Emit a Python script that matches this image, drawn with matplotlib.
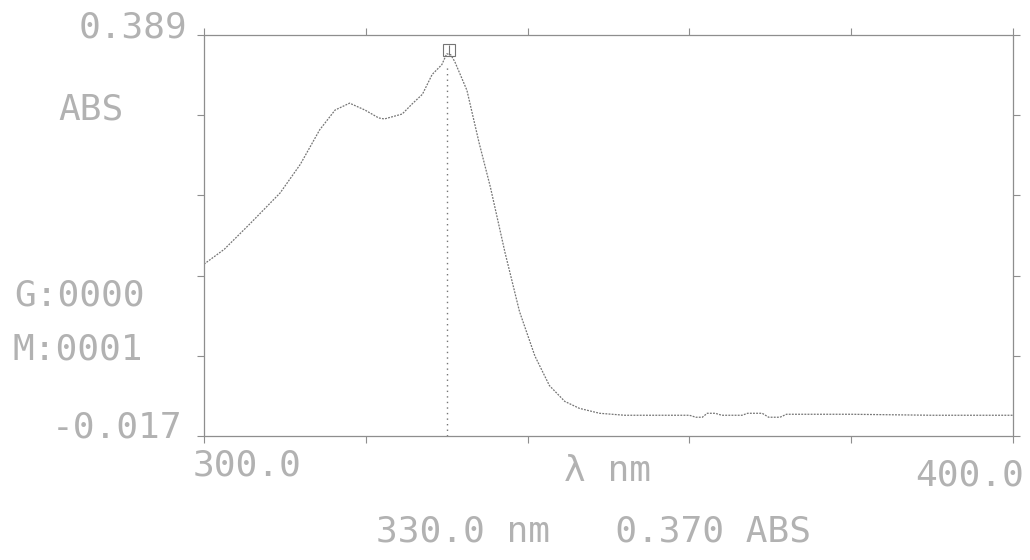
import matplotlib
matplotlib.use("Agg")
import matplotlib.pyplot as plt

# spectrum (nm, ABS)
wavelength = [300.0, 302.5, 305.7, 309.4, 311.9, 314.3, 316.2, 318.0, 319.9,
              321.6, 322.3, 324.5, 325.7, 327.0, 328.2, 329.4, 330.0, 330.5,
              331.0, 332.5, 334.0, 335.4, 337.2, 339.0, 340.9, 342.7, 344.6,
              346.4, 348.9, 352.0, 356.0, 360.0, 360.8, 361.6, 362.2, 363.2,
              364.0, 366.5, 367.2, 369.0, 369.8, 371.2, 372.0, 380.0, 390.0,
              400.0]
absorbance = [0.157, 0.172, 0.198, 0.229, 0.258, 0.293, 0.313, 0.320, 0.313,
              0.305, 0.304, 0.309, 0.319, 0.329, 0.349, 0.359, 0.370, 0.369,
              0.362, 0.333, 0.280, 0.235, 0.169, 0.109, 0.064, 0.034, 0.018,
              0.011, 0.006, 0.004, 0.004, 0.004, 0.002, 0.002, 0.006, 0.006,
              0.004, 0.004, 0.006, 0.006, 0.002, 0.002, 0.005, 0.005, 0.004,
              0.004]

x_min, x_max = 300.0, 400.0
y_min, y_max = -0.017, 0.389
x_ticks = [300, 320, 340, 360, 380, 400]
y_ticks = [y_min + k * (y_max - y_min) / 5 for k in range(6)]

cursor_nm = 330.0
cursor_abs = 0.370
gain_label = "G:0000"
mem_label = "M:0001"

ink = "#757575"
frame_ink = "#8e8e8e"
text_ink = "#b2b2b2"
mono = "DejaVu Sans Mono"

fig = plt.figure(figsize=(10.3, 5.6), dpi=100)
ax = fig.add_axes([204 / 1030, 1 - 436 / 560, 809 / 1030, 401 / 560])

ax.plot(wavelength, absorbance, color=ink, lw=0.9, ls=(0, (1.5, 1.0)))

# cursor line and marker
ax.plot([cursor_nm, cursor_nm], [y_min, cursor_abs - 0.012], color=ink,
        lw=1.0, ls=(0, (1.0, 3.0)))
ax.plot([cursor_nm + 0.3], [cursor_abs + 0.004], marker="s", ms=8,
        mfc="none", mec=ink, mew=0.8)
ax.plot([cursor_nm + 0.3], [cursor_abs + 0.004], marker="|", ms=7,
        color=ink, mew=0.8)

ax.set_xlim(x_min, x_max)
ax.set_ylim(y_min, y_max)
ax.set_xticks(x_ticks)
ax.set_yticks(y_ticks)
ax.set_xticklabels([])
ax.set_yticklabels([])
ax.tick_params(direction="out", length=5, width=0.8, color=frame_ink,
               top=True, right=True, bottom=True, left=True)
for sp in ax.spines.values():
    sp.set_color(frame_ink)
    sp.set_linewidth(0.9)
    sp.set_linestyle((0, (2.0, 1.0)))

# printer labels
fs = 26
fig.text(187 / 1030, 1 - 27 / 560, "0.389", ha="right", va="center",
         family=mono, fontsize=fs, color=text_ink)
fig.text(58 / 1030, 1 - 109 / 560, "ABS", ha="left", va="center",
         family=mono, fontsize=fs, color=text_ink)
fig.text(14 / 1030, 1 - 296 / 560, gain_label, ha="left", va="center",
         family=mono, fontsize=fs, color=text_ink)
fig.text(12 / 1030, 1 - 350 / 560, mem_label, ha="left", va="center",
         family=mono, fontsize=fs, color=text_ink)
fig.text(182 / 1030, 1 - 428 / 560, "-0.017", ha="right", va="center",
         family=mono, fontsize=fs, color=text_ink)
fig.text(247 / 1030, 1 - 466 / 560, "300.0", ha="center", va="center",
         family=mono, fontsize=fs, color=text_ink)
fig.text(607 / 1030, 1 - 471 / 560, "λ nm", ha="center", va="center",
         family=mono, fontsize=fs, color=text_ink)
fig.text(1024 / 1030, 1 - 476 / 560, "400.0", ha="right", va="center",
         family=mono, fontsize=fs, color=text_ink)
fig.text(593 / 1030, 1 - 532 / 560,
         f"{cursor_nm:.1f} nm   {cursor_abs:.3f} ABS", ha="center",
         va="center", family=mono, fontsize=fs, color=text_ink)

fig.savefig("out.png", dpi=100)
